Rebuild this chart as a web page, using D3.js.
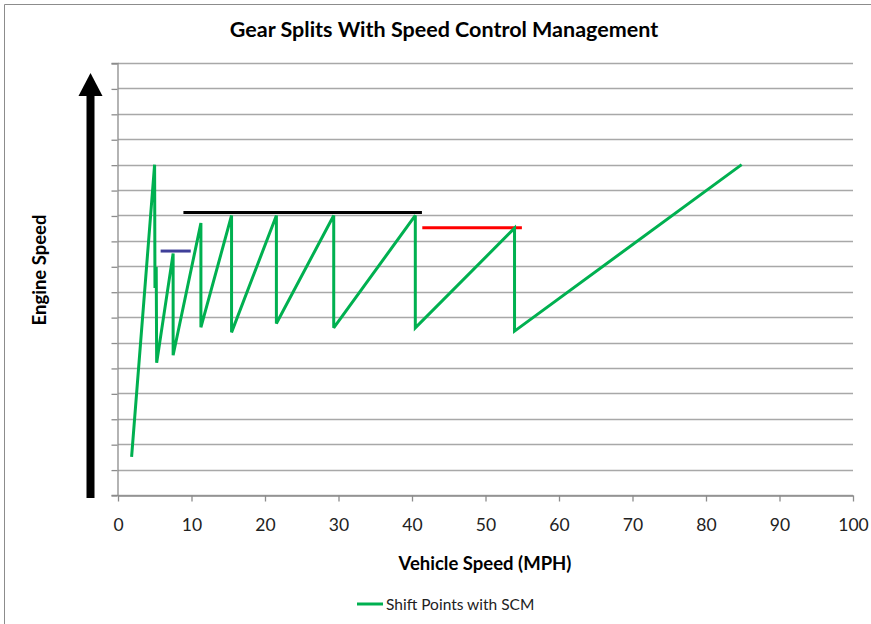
<!DOCTYPE html>
<html>
<head>
<meta charset="utf-8">
<script src="https://cdn.jsdelivr.net/npm/d3@7"></script>
<style>
  html, body { margin: 0; padding: 0; background: #fff; }
  svg { display: block; }
  text { font-family: Lato, "Open Sans", "Liberation Sans", sans-serif; }
</style>
</head>
<body>
<svg id="chart" width="871" height="624"></svg>
<script>
// Shift points with SCM: vehicle speed (mph) vs engine speed (rpm)
const shiftSpeed = [1.85, 4.98, 5.03, 5.2, 5.26, 7.5, 7.5, 11.28, 11.28, 15.45, 15.45,
                    21.55, 21.55, 29.35, 29.35, 40.45, 40.45, 53.95, 53.95, 84.85];
const shiftRpm   = [650, 1800, 1315, 1397, 1020, 1450, 1050, 1570, 1160, 1600, 1140,
                    1600, 1175, 1600, 1158, 1600, 1158, 1550, 1145, 1800];

// Speed-control limit bars
const blueSpeed  = [5.8, 9.9];
const blueRpm    = [1460, 1460];
const blackSpeed = [8.9, 41.35];
const blackRpm   = [1612, 1612];
const redSpeed   = [41.4, 54.95];
const redRpm     = [1552, 1552];

const xTicks = [0, 10, 20, 30, 40, 50, 60, 70, 80, 90, 100];
const yTicks = d3.range(500, 2201, 100);

const svg = d3.select("#chart");

// outer chart frame
svg.append("path")
  .attr("d", "M4.5,630 V4.5 H880")
  .attr("fill", "none")
  .attr("stroke", "#8c8c8c")
  .attr("stroke-width", 1);

const x = d3.scaleLinear().domain([0, 100]).range([118, 853]);
const y = d3.scaleLinear().domain([500, 2200]).range([495, 63]);

// horizontal gridlines
svg.append("g")
  .selectAll("line")
  .data(yTicks)
  .join("line")
  .attr("x1", x(0))
  .attr("x2", x(100))
  .attr("y1", d => Math.round(y(d)) + 0.5)
  .attr("y2", d => Math.round(y(d)) + 0.5)
  .attr("stroke", "#a8a8a8")
  .attr("stroke-width", 1.3);

// y axis (no labels)
const yAxis = svg.append("g")
  .attr("transform", `translate(${Math.round(x(0)) - 0.5},0)`)
  .call(d3.axisLeft(y).tickValues(yTicks).tickSize(6).tickFormat(""));
yAxis.select(".domain").attr("stroke", "#8c8c8c").attr("stroke-width", 1.3);
yAxis.selectAll(".tick line").attr("stroke", "#8c8c8c").attr("stroke-width", 1.3)
  .attr("transform", "translate(0,0.5)");

// x axis
const xAxis = svg.append("g")
  .attr("transform", `translate(0,${Math.round(y(500)) + 0.5})`)
  .call(d3.axisBottom(x).tickValues(xTicks).tickSize(6).tickSizeOuter(0).tickPadding(17));
xAxis.select(".domain").attr("stroke", "#8c8c8c").attr("stroke-width", 1.3);
xAxis.selectAll(".tick line").attr("stroke", "#8c8c8c").attr("stroke-width", 1.3);
xAxis.selectAll(".tick text")
  .attr("fill", "#222")
  .style("font-size", "17.5px")
  .style("font-family", "Lato, 'Open Sans', sans-serif");

const line = d3.line().x(d => x(d[0])).y(d => y(d[1]));

function drawSeries(xs, ys, color, width) {
  svg.append("path")
    .datum(xs.map((v, i) => [v, ys[i]]))
    .attr("d", line)
    .attr("fill", "none")
    .attr("stroke", color)
    .attr("stroke-width", width)
    .attr("stroke-linejoin", "miter")
    .attr("stroke-miterlimit", 3);
}

drawSeries(blackSpeed, blackRpm, "#000000", 3);
drawSeries(redSpeed, redRpm, "#ff0000", 3);
drawSeries(blueSpeed, blueRpm, "#3f3f99", 3);
drawSeries(shiftSpeed, shiftRpm, "#00b050", 3);

// engine speed arrow
svg.append("rect")
  .attr("x", 86.5).attr("y", 94)
  .attr("width", 8).attr("height", 404)
  .attr("fill", "#000");
svg.append("path")
  .attr("d", "M90.5,73 L102.5,96 L78.5,96 Z")
  .attr("fill", "#000");

// title
svg.append("text")
  .attr("x", 444).attr("y", 37)
  .attr("text-anchor", "middle")
  .style("font-size", "21.5px").style("font-weight", "bold")
  .attr("fill", "#000")
  .text("Gear Splits With Speed Control Management");

// axis titles
svg.append("text")
  .attr("x", 485).attr("y", 570)
  .attr("text-anchor", "middle")
  .style("font-size", "18.5px").style("font-weight", "bold")
  .text("Vehicle Speed (MPH)");

svg.append("text")
  .attr("transform", "translate(46,270) rotate(-90)")
  .attr("text-anchor", "middle")
  .style("font-size", "18.5px").style("font-weight", "bold")
  .text("Engine Speed");

// legend
const legend = svg.append("g");
legend.append("line")
  .attr("x1", 357).attr("x2", 383)
  .attr("y1", 604).attr("y2", 604)
  .attr("stroke", "#00b050").attr("stroke-width", 3);
legend.append("text")
  .attr("x", 386).attr("y", 609.5)
  .style("font-size", "15.5px")
  .attr("fill", "#222")
  .text("Shift Points with SCM");
</script>
</body>
</html>
